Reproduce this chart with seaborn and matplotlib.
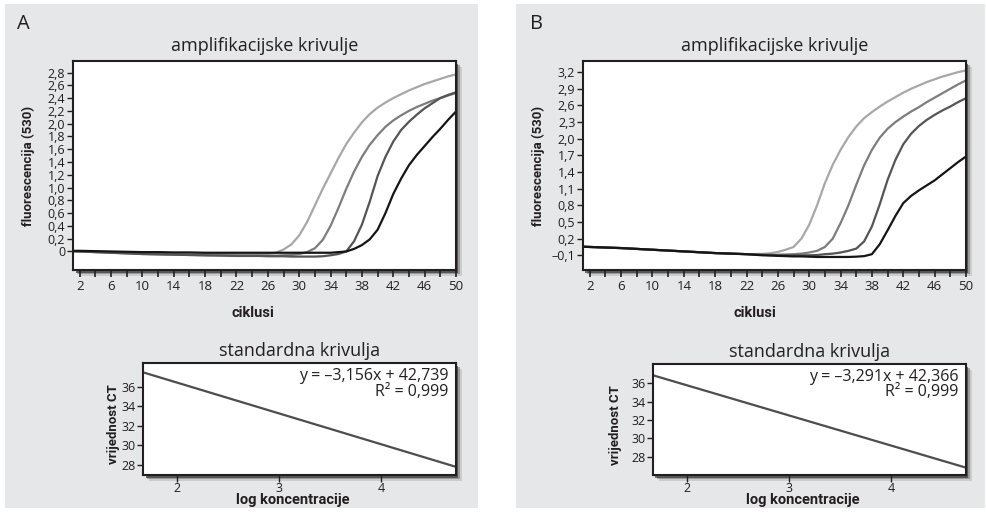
import numpy as np
import pandas as pd
import seaborn as sns
import matplotlib.pyplot as plt
import matplotlib.patches as patches
import matplotlib.patheffects as pe
import matplotlib.font_manager as fm
from matplotlib.ticker import FixedLocator

sns.set_style("ticks")
plt.rcParams['font.family'] = ['Open Sans', 'DejaVu Sans']
plt.rcParams['axes.unicode_minus'] = False

avail = {f.name for f in fm.fontManager.ttflist}
narrow = next((n for n in ['Liberation Sans Narrow', 'Roboto', 'DejaVu Sans'] if n in avail), 'DejaVu Sans')

# ciklusi
cycles = [1] + list(range(2, 25, 2)) + list(range(25, 51))

# panel A - amplifikacijske krivulje (fluorescencija 530)
fluo_a1 = [0.0, 0.0, -0.005, -0.01, -0.015, -0.02, -0.025, -0.03, -0.035, -0.04, -0.04, -0.045, -0.045,
           -0.045, -0.04, -0.02, 0.03, 0.11, 0.25, 0.46, 0.72, 0.98, 1.22, 1.46, 1.68, 1.86, 2.02,
           2.15, 2.25, 2.33, 2.40, 2.46, 2.52, 2.57, 2.62, 2.66, 2.70, 2.74, 2.77]
fluo_a2 = [0.005, 0.0, -0.01, -0.02, -0.03, -0.04, -0.045, -0.05, -0.055, -0.06, -0.06, -0.065, -0.065,
           -0.065, -0.065, -0.065, -0.06, -0.055, -0.04, -0.01, 0.05, 0.18, 0.40, 0.68, 0.98, 1.25, 1.48,
           1.67, 1.82, 1.95, 2.05, 2.13, 2.20, 2.26, 2.31, 2.36, 2.40, 2.44, 2.48]
fluo_a3 = [0.005, 0.0, -0.01, -0.02, -0.03, -0.04, -0.045, -0.05, -0.055, -0.06, -0.065, -0.07, -0.07,
           -0.07, -0.075, -0.075, -0.075, -0.08, -0.08, -0.08, -0.08, -0.075, -0.06, -0.04, 0.0, 0.16, 0.42,
           0.78, 1.18, 1.48, 1.72, 1.90, 2.03, 2.14, 2.24, 2.32, 2.40, 2.45, 2.49]
fluo_a4 = [0.01, 0.01, 0.005, 0.0, -0.005, -0.01, -0.01, -0.015, -0.015, -0.02, -0.02, -0.02, -0.02,
           -0.02, -0.02, -0.02, -0.02, -0.02, -0.02, -0.02, -0.02, -0.02, -0.02, -0.01, 0.0, 0.04, 0.10,
           0.19, 0.34, 0.60, 0.90, 1.14, 1.35, 1.51, 1.65, 1.79, 1.92, 2.06, 2.19]

# panel B
fluo_b1 = [0.055, 0.05, 0.04, 0.03, 0.015, 0.0, -0.015, -0.03, -0.045, -0.06, -0.07, -0.08, -0.075,
           -0.065, -0.04, 0.0, 0.05, 0.20, 0.45, 0.80, 1.20, 1.53, 1.80, 2.03, 2.22, 2.37, 2.48,
           2.58, 2.67, 2.75, 2.83, 2.90, 2.96, 3.02, 3.07, 3.12, 3.16, 3.20, 3.23]
fluo_b2 = [0.055, 0.05, 0.04, 0.03, 0.015, 0.0, -0.015, -0.03, -0.045, -0.06, -0.07, -0.08, -0.09,
           -0.09, -0.09, -0.085, -0.08, -0.07, -0.05, -0.02, 0.05, 0.20, 0.48, 0.80, 1.17, 1.52, 1.80,
           2.02, 2.18, 2.30, 2.40, 2.49, 2.57, 2.66, 2.74, 2.82, 2.90, 2.98, 3.05]
fluo_b3 = [0.055, 0.05, 0.04, 0.03, 0.015, 0.0, -0.015, -0.03, -0.045, -0.06, -0.07, -0.08, -0.09,
           -0.095, -0.10, -0.10, -0.10, -0.10, -0.10, -0.095, -0.08, -0.07, -0.05, -0.02, 0.02, 0.15, 0.42,
           0.82, 1.26, 1.62, 1.90, 2.09, 2.23, 2.34, 2.43, 2.51, 2.58, 2.66, 2.73]
fluo_b4 = [0.055, 0.05, 0.04, 0.03, 0.015, 0.0, -0.015, -0.03, -0.045, -0.06, -0.07, -0.08, -0.10,
           -0.105, -0.11, -0.115, -0.12, -0.12, -0.125, -0.13, -0.13, -0.13, -0.13, -0.13, -0.125, -0.115,
           -0.08, 0.10, 0.35, 0.61, 0.84, 0.97, 1.07, 1.16, 1.25, 1.36, 1.47, 1.58, 1.68]

curve_colors = ['#a7a7a7', '#7d7d7d', '#555555', '#151515']

yticks_a = [0, 0.2, 0.4, 0.6, 0.8, 1.0, 1.2, 1.4, 1.6, 1.8, 2.0, 2.2, 2.4, 2.6, 2.8]
yticks_b = [-0.1, 0.2, 0.5, 0.8, 1.1, 1.4, 1.7, 2.0, 2.3, 2.6, 2.9, 3.2]

# standardna krivulja
log_range = [1.67, 4.72]
slope = {'A': -3.156, 'B': -3.291}
intercept = {'A': 42.739, 'B': 42.366}
eq_text = {'A': 'y = \u20133,156x + 42,739', 'B': 'y = \u20133,291x + 42,366'}
r2_text = 'R\u00b2 = 0,999'
ct_ticks = [28, 30, 32, 34, 36]

ink = '#231f20'
W, H = 987, 514


def fmt(v):
    if abs(v) < 1e-9:
        return '0'
    s = f"{abs(v):.1f}".replace('.', ',')
    return ('\u2013' + s) if v < 0 else s


def box(left, top, right, bottom):
    return [left / W, 1 - bottom / H, (right - left) / W, (bottom - top) / H]


def style_box(ax):
    for sp in ax.spines.values():
        sp.set_visible(True)
        sp.set_linewidth(1.5)
        sp.set_color(ink)
    ax.patch.set_facecolor('white')
    ax.patch.set_path_effects([
        pe.SimplePatchShadow(offset=(4.5, -4.5), shadow_rgbFace='#9a9a9a', alpha=0.35),
        pe.SimplePatchShadow(offset=(3.2, -3.2), shadow_rgbFace='#6a6a6a', alpha=0.5),
        pe.SimplePatchShadow(offset=(1.8, -1.8), shadow_rgbFace='#3a3a3a', alpha=0.7),
        pe.Normal()])


label_kw = dict(fontweight='bold', family=[narrow], color=ink)

fig = plt.figure(figsize=(W / 100, H / 100), dpi=100)
for x0, x1 in [(5, 478), (516, 985)]:
    fig.add_artist(patches.Rectangle((x0 / W, 6 / H), (x1 - x0) / W, (509 - 5) / H,
                                     transform=fig.transFigure, facecolor='#e6e7e8',
                                     edgecolor='none', zorder=-1))

panels = [
    ('A', box(73, 61, 456, 270), box(143, 363, 456, 475), [fluo_a1, fluo_a2, fluo_a3, fluo_a4],
     yticks_a, (1.15, 50), (-0.29, 2.98), (38.42, 26.98), 23, -0.1, -0.072, 0.47),
    ('B', box(583, 61, 966, 270), box(653, 364, 966, 475), [fluo_b1, fluo_b2, fluo_b3, fluo_b4],
     yticks_b, (1.14, 50), (-0.365, 3.4), (38.1, 26.0), 537, -0.1, -0.098, 0.45),
]

for name, rect_top, rect_bot, curves, yt, xl, yl, ctl, letter_x, ylab_x, ylab2_x, xlab_x in panels:
    ax = fig.add_axes(rect_top)
    style_box(ax)
    for vals, col in zip(curves, curve_colors):
        sns.lineplot(x=cycles, y=vals, ax=ax, color=col, linewidth=1.6)
    ax.set_xlim(*xl)
    ax.set_ylim(*yl)
    ax.xaxis.set_major_locator(FixedLocator(list(range(2, 51, 4))))
    ax.xaxis.set_minor_locator(FixedLocator(list(range(4, 50, 4))))
    ax.set_yticks(yt)
    ax.set_yticklabels([fmt(v) for v in yt])
    ax.tick_params(axis='x', which='both', direction='out', length=5, width=1.2, color=ink,
                   labelsize=9.5, labelcolor=ink, pad=2)
    ax.tick_params(axis='y', direction='out', length=4, width=1, color=ink, labelsize=9,
                   labelcolor=ink, pad=1.5)
    ax.set_title('amplifikacijske krivulje', fontsize=13, color=ink, pad=7)
    ax.set_xlabel('ciklusi', fontsize=10.5, **label_kw)
    ax.xaxis.set_label_coords(xlab_x, -0.172)
    ax.set_ylabel('fluorescencija (530)', fontsize=9.5, **label_kw)
    ax.yaxis.set_label_coords(ylab_x, 0.5)
    fig.text(letter_x / W, 1 - 24 / H, name, fontsize=14.5, color=ink, ha='center', va='center')

    bx = fig.add_axes(rect_bot)
    style_box(bx)
    xs = np.array(log_range)
    sns.lineplot(x=xs, y=slope[name] * xs + intercept[name], ax=bx, color='#4d4d4d', linewidth=1.6)
    bx.set_xlim(log_range[0], log_range[1] + 0.01)
    bx.set_ylim(ctl[1], ctl[0])
    bx.set_xticks([2, 3, 4])
    bx.set_yticks(ct_ticks)
    bx.tick_params(axis='x', direction='out', length=5, width=1, color=ink, labelsize=9,
                   labelcolor=ink, pad=0)
    bx.tick_params(axis='y', direction='out', length=4, width=1, color=ink, labelsize=9,
                   labelcolor=ink, pad=1)
    bx.set_title('standardna krivulja', fontsize=13, color=ink, pad=5)
    bx.set_xlabel('log koncentracije', fontsize=10.5, **label_kw)
    bx.xaxis.set_label_coords(0.48, -0.165)
    bx.set_ylabel('vrijednost CT', fontsize=9.5, **label_kw)
    bx.yaxis.set_label_coords(ylab2_x, 0.45)
    bx.text(0.975, 0.88, eq_text[name], transform=bx.transAxes, ha='right', va='center',
            fontsize=11.5, color=ink)
    bx.text(0.975, 0.745, r2_text, transform=bx.transAxes, ha='right', va='center',
            fontsize=11.5, color=ink)

fig.savefig('out.png', dpi=100)
